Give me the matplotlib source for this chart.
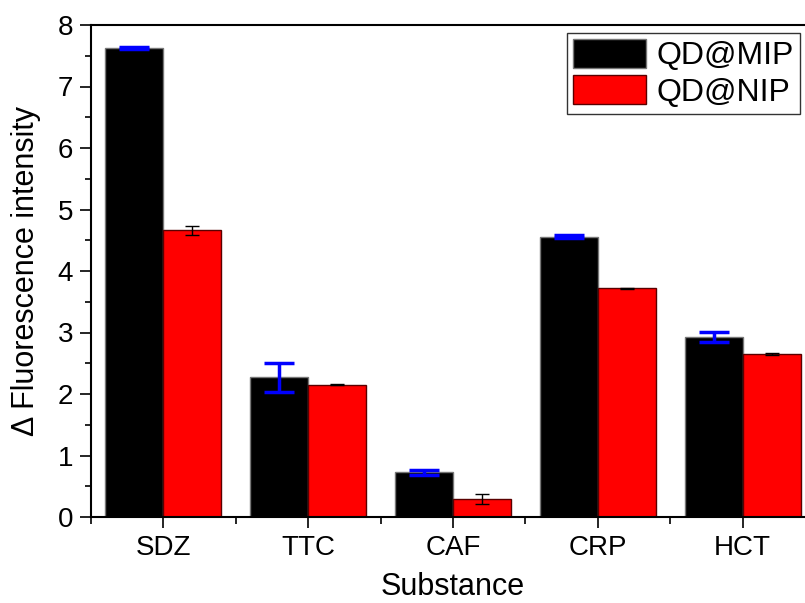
import numpy as np
import matplotlib
matplotlib.use("Agg")
import matplotlib.pyplot as plt
from matplotlib.ticker import MultipleLocator

plt.rcParams['font.family'] = ['Liberation Sans', 'DejaVu Sans']

substances = ['SDZ', 'TTC', 'CAF', 'CRP', 'HCT']
mip = [7.63, 2.27, 0.73, 4.56, 2.93]
mip_err = [0.02, 0.24, 0.04, 0.03, 0.08]
nip = [4.66, 2.15, 0.29, 3.72, 2.65]
nip_err = [0.07, 0.005, 0.08, 0.005, 0.01]

x = np.arange(len(substances))
w = 0.4

fig = plt.figure(figsize=(8.05, 6.03), dpi=100)
ax = fig.add_axes([91 / 805, 1 - 517 / 603, (815 - 91) / 805, (517 - 25) / 603])

ax.bar(x - w / 2, mip, w, color='black', edgecolor='#777777', linewidth=1, label='QD@MIP', zorder=2)
ax.bar(x + w / 2, nip, w, color='red', edgecolor='#5a0000', linewidth=1, label='QD@NIP', zorder=2)
ax.errorbar(x - w / 2, mip, yerr=mip_err, fmt='none', ecolor='blue', elinewidth=2.5,
            capsize=11, capthick=2.5, zorder=3)
ax.errorbar(x + w / 2, nip, yerr=nip_err, fmt='none', ecolor='black', elinewidth=1,
            capsize=5, capthick=1, zorder=3)

ax.set_xlim(-0.5, 4.5)
ax.set_ylim(0, 8)
ax.set_xticks(x)
ax.set_xticklabels(substances)
ax.xaxis.set_minor_locator(MultipleLocator(0.5))
ax.yaxis.set_major_locator(MultipleLocator(1))
ax.yaxis.set_minor_locator(MultipleLocator(0.5))
ax.tick_params(which='major', direction='out', length=8, width=1.2, labelsize=20, pad=5)
ax.tick_params(which='minor', direction='out', length=4.5, width=1.2)
ax.tick_params(axis='x', which='minor', length=5)
for s in ax.spines.values():
    s.set_linewidth(1.5)

ax.set_xlabel('Substance', fontsize=22, labelpad=8)
ax.set_ylabel('Δ Fluorescence intensity', fontsize=22, labelpad=12)

leg = ax.legend(loc='upper right', bbox_to_anchor=(0.979, 0.984), fontsize=23,
                handlelength=2.3, handleheight=1.0, handletextpad=0.3,
                labelspacing=0.12, borderpad=0.2, borderaxespad=0, fancybox=False,
                edgecolor='#333333', framealpha=1)
leg.get_frame().set_linewidth(1)

fig.savefig('out.png', dpi=100)
